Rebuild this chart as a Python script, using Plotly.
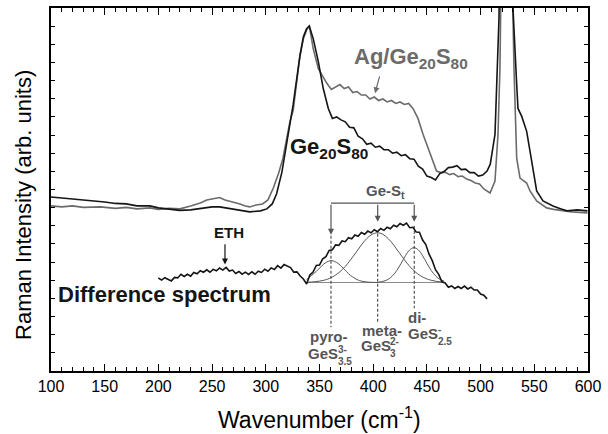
import plotly.graph_objects as go

# ---------------- data (wavenumber cm^-1, intensity arb. units) ----------------
ge_wn = [100, 110, 120, 130, 140, 150, 160, 170, 180, 192, 200, 210, 220, 230, 240, 250, 257, 265,
         272, 280, 285, 295, 301, 306, 310, 315, 319.5, 322.5, 325.5, 331.8, 335, 338, 340.5, 344.2,
         348.9, 353.5, 358.2, 362, 366, 370, 374, 378, 382, 386, 390, 394, 398, 402, 406, 410, 414,
         418, 422, 426, 430, 434, 438, 442, 446, 450, 454, 458, 462, 466, 470, 474, 478, 482, 486,
         490, 494, 498, 502, 506, 509, 513.4, 515.6, 517.1, 523, 530.2, 533.6, 534.8, 538.3, 542.9,
         546, 548.8, 552.2, 558.1, 567.4, 575, 580.4, 590, 599.5]
ge_int = [175, 174, 173.5, 172, 171.5, 170, 168.5, 168, 166, 166, 164, 163, 161.5, 162, 163.5, 165,
          165, 163.5, 162, 160.5, 160, 161, 163, 168, 178, 200, 231, 251, 268, 317, 336, 344.3, 347,
          334, 311, 284, 264, 254, 255.5, 252.5, 250.5, 245, 244.5, 236, 233.5, 228, 229, 225, 226,
          222.5, 222.5, 219, 220, 216.5, 217.5, 213.5, 213, 206, 203, 196, 194.5, 192, 198.5, 200.5,
          204.5, 205, 206.5, 202.5, 203, 199.5, 199.5, 196, 197, 201, 208, 238, 304, 354, 800, 364,
          288, 264, 256, 241, 221, 204, 181, 171, 166, 163, 161, 162, 161]

ag_wn = [100, 110, 120, 130, 146, 160, 170, 180, 192, 200, 210, 220, 230, 239, 245, 250, 257, 262,
         266, 271, 276, 281, 285, 291, 297, 302, 307, 312, 316, 319.5, 322.5, 325.5, 331.8, 335, 338,
         340.5, 344.2, 348.9, 353, 357, 361, 365, 369, 373, 377, 381, 385, 389, 393, 397, 401, 405,
         409, 413, 417, 421, 425, 429, 433, 437, 441.7, 446.4, 452.9, 459, 463, 467, 471, 475, 479,
         483, 487, 491, 495, 499, 503, 508.8, 513.4, 516.2, 518, 519.6, 524, 529.9, 531.1, 533.6,
         536.7, 542.9, 546, 552.2, 561.5, 568, 576.7, 585, 599.5]
ag_int = [166, 165, 166, 164.5, 165, 163.5, 164.5, 163, 164, 162.5, 163.5, 163, 166, 169, 172, 173,
          174.5, 172, 171, 169.5, 168, 166, 165, 167, 168, 172, 184, 199, 214, 234, 251, 262, 317,
          334, 343, 347, 324, 304, 296, 289, 283, 285.5, 288, 284, 285.5, 280, 281, 277.5, 277.5,
          273.5, 275.5, 272, 273.5, 270.5, 272, 269, 270.5, 268, 269, 264, 254, 238, 218, 201, 199.5,
          200, 197.5, 198.5, 195.5, 196, 193, 191.5, 189, 188, 183, 179, 191, 238, 304, 371, 800,
          371, 304, 214, 194, 189, 181, 171, 164, 162.5, 161, 160, 159]

diff_wn = [200, 203, 206, 209, 212, 215, 218, 221, 224, 227, 230, 233, 236, 239, 242, 245, 248, 251,
           254, 257, 260, 263, 266, 269, 272, 275, 278, 281, 284, 287, 290, 293, 296, 299, 302, 305,
           308, 311, 314, 317, 320, 323, 326, 329, 332, 335, 338, 341, 344, 347, 350, 353, 356, 359,
           362, 365, 368, 371, 374, 377, 380, 383, 386, 389, 392, 395, 398, 401, 404, 407, 410, 413,
           416, 419, 422, 425, 428, 431, 434, 437, 440, 443, 446, 449, 452, 455, 458, 461, 464, 467,
           470, 473, 476, 479, 482, 485, 488, 491, 494, 497, 500, 503, 506]
diff_int = [93.5, 91.4, 93.8, 92.1, 90.6, 94.1, 93.6, 97.2, 95.1, 97.3, 95.4, 99, 97.7, 100.8, 99.3,
            101.8, 99.3, 102.2, 100.7, 103.6, 101.5, 104.1, 100.5, 101.5, 98.1, 100.1, 97.3, 99.4,
            97.1, 99.8, 97.3, 100.3, 99.1, 102.4, 100.3, 103.7, 102.1, 105.9, 103.5, 107, 105.3, 104,
            99.4, 99.7, 95.5, 92.5, 87.5, 96.5, 99.5, 106.2, 106.5, 112.8, 115, 121.3, 122, 126.8,
            126.3, 130.8, 130, 134.1, 133, 136.8, 135.5, 139.2, 137.5, 140.7, 138.9, 142, 140.1,
            143.3, 141.4, 144.5, 143, 146.5, 145, 148.3, 146.5, 148.8, 144.1, 144.5, 139.8, 139.5,
            131.7, 127.2, 117.5, 111, 101.9, 97.2, 89.7, 88.5, 84.2, 85.5, 83, 85, 83, 85.4, 82.5,
            84.2, 81.4, 81.5, 77.4, 76.2, 72.5]

pyro_wn = [338, 343, 347, 351, 354, 358, 361, 364, 368, 371, 375, 379, 382, 386, 389, 396, 405]
pyro_int = [92, 96.5, 100.1, 104.5, 107.6, 110.2, 111, 110.2, 107.6, 104.5, 100.1, 96, 93.8, 91.4,
            90.4, 89.3, 89]
meta_wn = [338, 346, 354, 359, 364, 369, 374, 379, 384, 389, 394, 399, 404, 409, 414, 419, 424,
           429, 434, 439, 444, 449, 454, 459, 465]
meta_int = [89.2, 89.8, 91.2, 93, 95.8, 99.8, 105.2, 111.9, 119.3, 126.7, 133.1, 137.5, 139, 137.5,
            133.1, 126.7, 119.3, 111.9, 105.2, 99.8, 95.8, 93, 91.2, 90.1, 89.5]
di_wn = [405, 410, 414, 418, 422, 426, 430, 434, 438, 442, 446, 450, 454, 458, 462, 466]
di_int = [89.4, 90.4, 92.2, 95.7, 101.1, 108.3, 115.9, 121.8, 124, 121.8, 115.9, 108.3, 101.1,
          95.7, 92.2, 90.4]
fit_base_wn = [338, 465]
fit_base_int = [89, 89]

band_pos = [360.7, 404.2, 438.2]
band_top = [136, 138, 146]
band_bottom = [44, 49, 63]
x_ticks = [100, 150, 200, 250, 300, 350, 400, 450, 500, 550, 600]

BLACK = "#151515"
GRAY = "#6b6b6b"
LGRAY = "#555555"
FONT = "Liberation Sans, Arial, sans-serif"

fig = go.Figure()
fig.add_trace(go.Scatter(x=ag_wn, y=ag_int, mode="lines", line=dict(color=GRAY, width=1.6)))
fig.add_trace(go.Scatter(x=ge_wn, y=ge_int, mode="lines", line=dict(color=BLACK, width=1.6)))
fig.add_trace(go.Scatter(x=fit_base_wn, y=fit_base_int, mode="lines", line=dict(color="#8a8a8a", width=1)))
for gx, gy in [(pyro_wn, pyro_int), (meta_wn, meta_int), (di_wn, di_int)]:
    fig.add_trace(go.Scatter(x=gx, y=gy, mode="lines", line=dict(color=LGRAY, width=1, shape="spline")))
fig.add_trace(go.Scatter(x=diff_wn, y=diff_int, mode="lines", line=dict(color=BLACK, width=1.6)))
for bx, bt, bb in zip(band_pos, band_top, band_bottom):
    fig.add_trace(go.Scatter(x=[bx, bx], y=[bt, bb], mode="lines",
                             line=dict(color="#333333", width=1, dash="3px,2px")))

# bracket for Ge-St
fig.add_shape(type="line", x0=band_pos[0], x1=band_pos[2], y0=168.7, y1=168.7,
              line=dict(color=LGRAY, width=1.2))
tips = [137, 150, 150]
for bx, tp in zip(band_pos, tips):
    fig.add_annotation(x=bx, y=tp, ax=bx, ay=168.7, xref="x", yref="y", axref="x", ayref="y",
                       text="", showarrow=True, arrowhead=2, arrowsize=1, arrowwidth=1.2,
                       arrowcolor=LGRAY)

def txt(x, y, s, size, color, bold=True, xanchor="center"):
    fig.add_annotation(x=x, y=y, xref="x", yref="y", text=("<b>%s</b>" % s) if bold else s,
                       showarrow=False, xanchor=xanchor, yanchor="middle",
                       font=dict(family=FONT, size=size, color=color))

txt(411, 180, "Ge-S<sub>t</sub>", 15, LGRAY)
txt(435.2, 315, "Ag/Ge<sub>20</sub>S<sub>80</sub>", 22, GRAY)
txt(358.8, 224, "Ge<sub>20</sub>S<sub>80</sub>", 22, BLACK)
txt(265.7, 139, "ETH", 15, BLACK)
txt(205.7, 76.5, "Difference spectrum", 22, BLACK)

# arrows for Ag/Ge20S80 and ETH
fig.add_annotation(x=401.7, y=279.3, ax=406.3, ay=297.7, xref="x", yref="y", axref="x", ayref="y",
                   text="", showarrow=True, arrowhead=2, arrowsize=1, arrowwidth=1.2, arrowcolor=GRAY)
fig.add_annotation(x=262, y=107, ax=262, ay=129, xref="x", yref="y", axref="x", ayref="y",
                   text="", showarrow=True, arrowhead=2, arrowsize=1, arrowwidth=1.2, arrowcolor=BLACK)

# band labels
txt(358.4, 35, "pyro-", 15, LGRAY)
txt(353.7, 17.5, "GeS", 15, LGRAY)
txt(365.6, 22, "3-", 10, LGRAY, xanchor="left")
txt(365.6, 10, "3.5", 10, LGRAY, xanchor="left")
txt(408.2, 41, "meta-", 15, LGRAY)
txt(402.6, 25.5, "GeS", 15, LGRAY)
txt(414.2, 30, "2-", 10, LGRAY, xanchor="left")
txt(414.2, 18, "3", 10, LGRAY, xanchor="left")
txt(441.2, 53.5, "di-", 15, LGRAY)
txt(446.8, 38, "GeS", 15, LGRAY)
txt(458.8, 42, "-", 10, LGRAY, xanchor="left")
txt(458.8, 30, "2.5", 10, LGRAY, xanchor="left")

# axis titles as annotations (positioned in pixels, converted to paper coords below)
fig.add_annotation(x=24, y=204, text="Raman Intensity (arb. units)",
                   showarrow=False, textangle=-90, xanchor="center", yanchor="middle",
                   font=dict(family=FONT, size=22, color="#000"))
fig.add_annotation(x=319, y=418, text="Wavenumber (cm<sup>-1</sup>)", showarrow=False,
                   xanchor="center", yanchor="middle", font=dict(family=FONT, size=23, color="#000"))

W, H = 608, 434
L, R, T, B = 51, 20, 6, 63
pw, ph = W - L - R, H - T - B
for a in fig.layout.annotations[-2:]:
    a.update(xref="paper", yref="paper", x=(a.x - L) / pw, y=(H - B - a.y) / ph)

fig.update_layout(
    width=W, height=H, margin=dict(l=L, r=R, t=T, b=B), showlegend=False,
    plot_bgcolor="white", paper_bgcolor="white",
    font=dict(family=FONT, color="#000"),
    xaxis=dict(range=[100, 600], tickvals=x_ticks, ticks="inside", ticklen=7, tickwidth=1.3,
               tickcolor="#000", mirror="allticks", showline=True, linecolor="#000", linewidth=1.5,
               showgrid=False, zeroline=False, tickfont=dict(size=16, family=FONT),
               minor=dict(dtick=10, tick0=100, ticks="inside", ticklen=4, tickwidth=1.1,
                          tickcolor="#000", showgrid=False)),
    yaxis=dict(range=[0, 365], tick0=0, dtick=18.25, ticks="inside", ticklen=4, tickwidth=1.1,
               tickcolor="#000", mirror="allticks", showline=True, linecolor="#000", linewidth=1.5,
               showgrid=False, zeroline=False, showticklabels=False),
)
fig.write_html("out.html")
